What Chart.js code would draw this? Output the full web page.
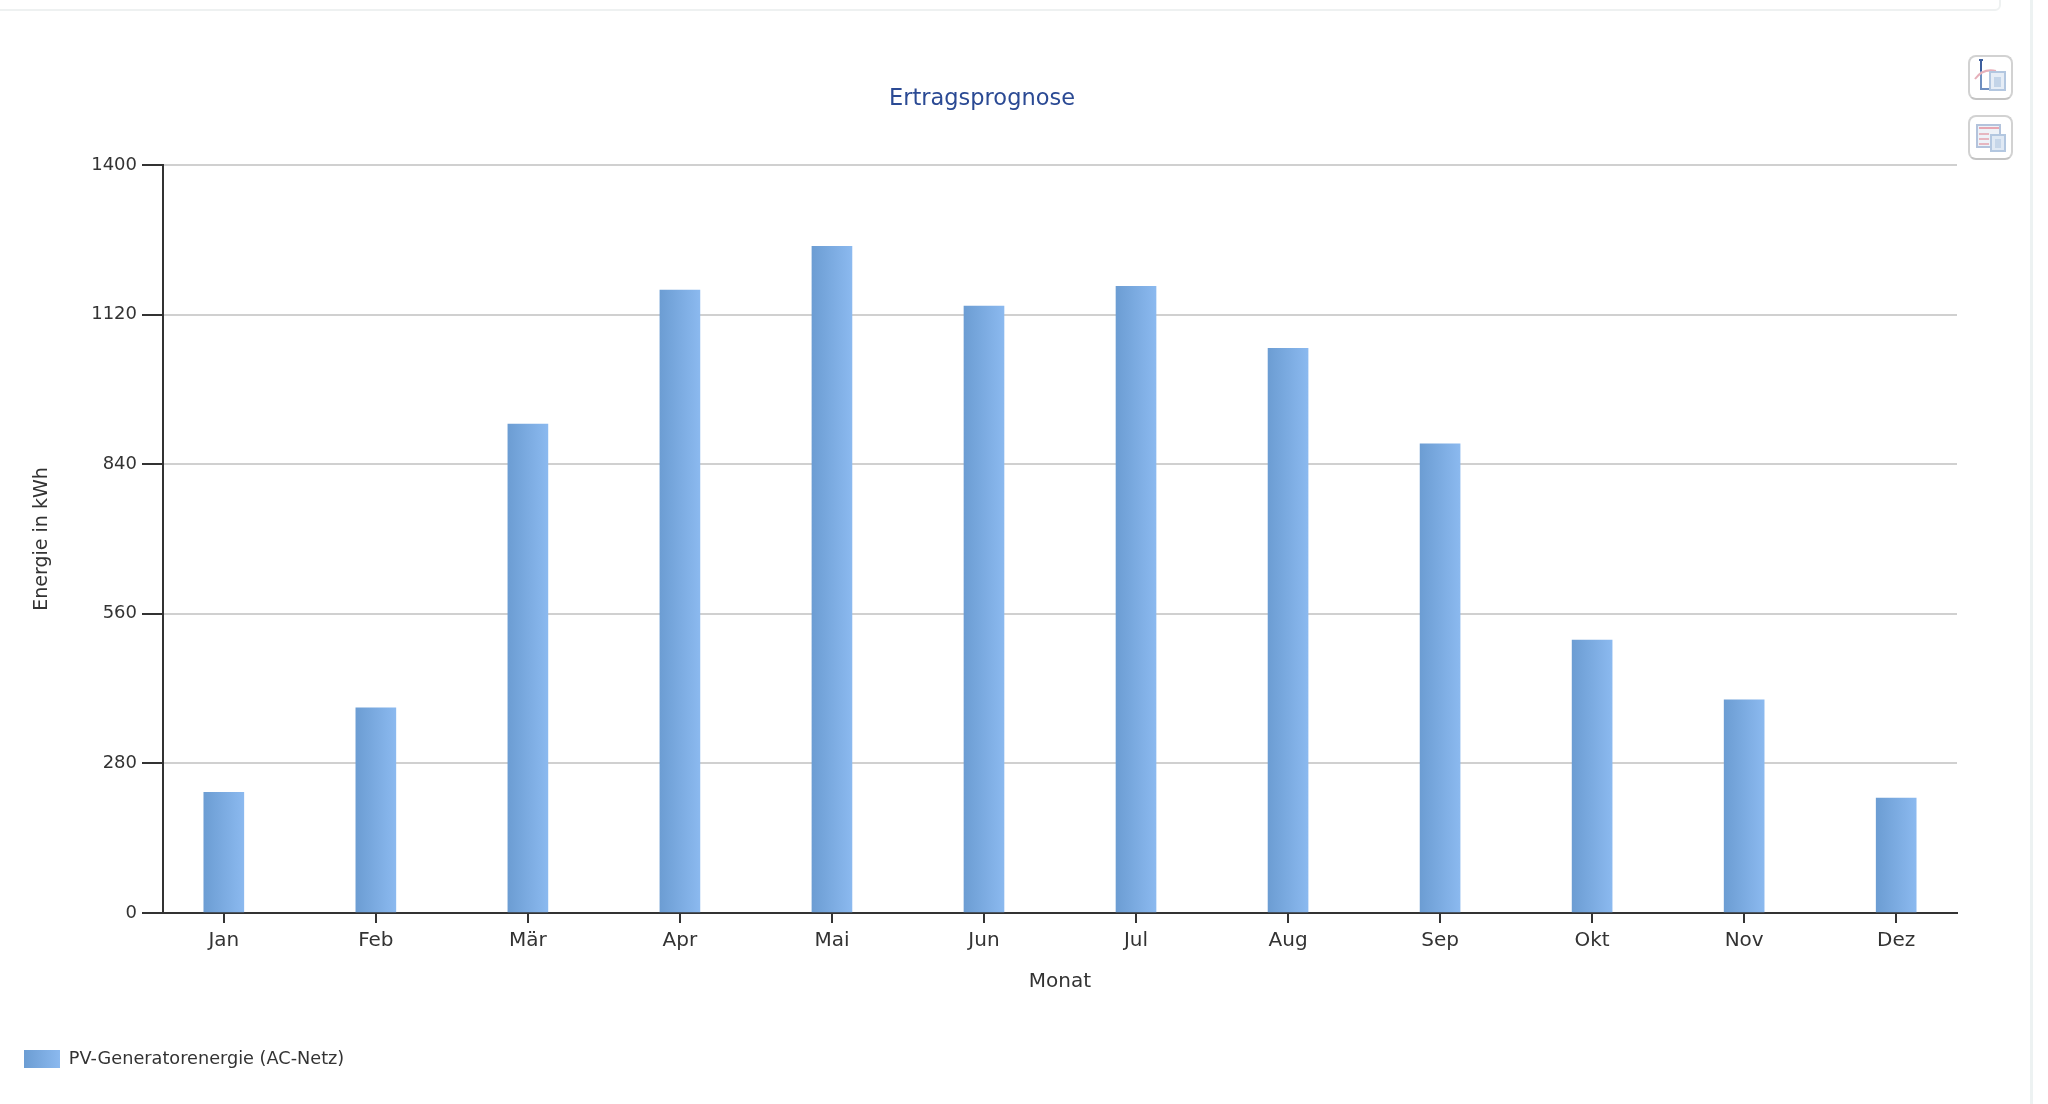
<!DOCTYPE html>
<html>
<head>
<meta charset="utf-8">
<title>Ertragsprognose</title>
<script src="https://cdn.jsdelivr.net/npm/chart.js@4/dist/chart.umd.min.js"></script>
<style>
  html, body { margin: 0; padding: 0; background: #fff; width: 2048px; height: 1104px; overflow: hidden; }
  #wrap { position: absolute; left: 0; top: 0; width: 1964px; height: 1104px; }
  .topbox { position: absolute; left: -10px; top: -10px; width: 2007px; height: 17px; border: 2px solid #eef1f1; border-radius: 6px; }
  .rightline { position: absolute; left: 2030px; top: 0; width: 3px; height: 1104px; background: #edf2f2; }
  .btn { position: absolute; left: 1968px; width: 41px; height: 41px; border: 2px solid #d2d2d2; border-bottom-color: #c4c4c4; border-radius: 8px; background: #fff; }
</style>
</head>
<body>
<div class="topbox"></div>
<div class="rightline"></div>
<div id="wrap"><canvas id="chart"></canvas></div>
<div class="btn" style="top:55px">
  <svg width="41" height="41" viewBox="0 0 41 41">
    <path d="M11 3V32H22" fill="none" stroke="#6f8fc0" stroke-width="2"/>
    <path d="M9 3H13" stroke="#3d5f9e" stroke-width="2"/>
    <path d="M11 3V14" stroke="#3d5f9e" stroke-width="2"/>
    <path d="M5 22C10 15 17 12 26 14" fill="none" stroke="#e6b0ba" stroke-width="2"/>
    <rect x="20" y="15" width="15" height="18" fill="#e6edf6" stroke="#b3c7e0" stroke-width="2"/>
    <rect x="24" y="20" width="7" height="10" fill="#c3d4e8"/>
  </svg>
</div>
<div class="btn" style="top:115px">
  <svg width="41" height="41" viewBox="0 0 41 41">
    <rect x="7" y="8" width="23" height="22" fill="#eef2f8" stroke="#b3c3dc" stroke-width="2"/>
    <path d="M9 11H29" stroke="#e6a6b2" stroke-width="2"/>
    <path d="M9 17H19M9 22H19M9 27H19" stroke="#e6b6c0" stroke-width="2"/>
    <rect x="21" y="18" width="14" height="16" fill="#e0e9f4" stroke="#b3c7e0" stroke-width="2"/>
    <rect x="25" y="22" width="6" height="9" fill="#c6d6e9"/>
  </svg>
</div>
<script>
const months = ["Jan", "Feb", "Mär", "Apr", "Mai", "Jun", "Jul", "Aug", "Sep", "Okt", "Nov", "Dez"];
const energy = [226, 384, 915, 1166, 1248, 1136, 1173, 1057, 878, 511, 399, 215];
const yTicks = [0, 280, 560, 840, 1120, 1400];
const seriesName = "PV-Generatorenergie (AC-Netz)";

const font = "'DejaVu Sans', sans-serif";
const ink = "#333333";

function barGradient(ctx, x0, x1) {
  const g = ctx.createLinearGradient(x0, 0, x1, 0);
  g.addColorStop(0, "#6c9dd3");
  g.addColorStop(1, "#8bb9ef");
  return g;
}

new Chart(document.getElementById("chart"), {
  type: "bar",
  data: {
    datasets: [{
      label: seriesName,
      data: energy.map((v, i) => ({ x: i, y: v })),
      barThickness: 40,
      backgroundColor(c) {
        const sx = c.chart.scales.x;
        if (!sx || c.dataIndex === undefined) return "#7aaae0";
        const px = sx.getPixelForValue(c.dataIndex);
        return barGradient(c.chart.ctx, px - 20, px + 20);
      }
    }]
  },
  options: {
    responsive: true,
    maintainAspectRatio: false,
    animation: false,
    devicePixelRatio: 1,
    layout: { padding: { left: 7, right: 7, top: 0, bottom: 26 } },
    plugins: {
      tooltip: { enabled: false },
      title: {
        display: true,
        text: "Ertragsprognose",
        color: "#2b4a94",
        font: { family: font, size: 22.5, weight: "normal" },
        padding: { top: 86, bottom: 52 }
      },
      legend: {
        position: "bottom",
        align: "start",
        labels: {
          color: ink,
          boxWidth: 36,
          boxHeight: 18,
          padding: 17,
          font: { family: font, size: 17.7 },
          generateLabels(chart) {
            return [{
              text: seriesName,
              fontColor: ink,
              lineWidth: 0,
              datasetIndex: 0,
              fillStyle: barGradient(chart.ctx, 24, 60)
            }];
          }
        }
      }
    },
    scales: {
      x: {
        type: "linear",
        offset: false,
        min: -0.4,
        max: 11.4,
        afterBuildTicks(scale) {
          scale.ticks = months.map((m, i) => ({ value: i }));
        },
        afterFit(scale) {
          scale.height = 120;
        },
        border: { color: ink, width: 2 },
        grid: { offset: false, drawOnChartArea: false, drawTicks: true, tickLength: 10, color: ink, lineWidth: 2 },
        ticks: {
          color: ink,
          autoSkip: false,
          maxRotation: 0,
          padding: 6,
          font: { family: font, size: 20 },
          callback: (v) => months[v]
        },
        title: {
          display: true,
          text: "Monat",
          color: ink,
          font: { family: font, size: 20 },
          padding: { top: 0, bottom: 39 }
        }
      },
      y: {
        min: 0,
        max: 1400,
        afterBuildTicks(scale) {
          scale.ticks = yTicks.map((v) => ({ value: v }));
        },
        afterFit(scale) {
          scale.width = 156;
        },
        border: { color: ink, width: 2 },
        grid: {
          color: "#d0d0d0",
          lineWidth: 2,
          tickLength: 21,
          tickColor: ink
        },
        ticks: {
          color: ink,
          padding: 5,
          font: { family: font, size: 18 },
          callback: (v) => String(v)
        },
        title: {
          display: true,
          text: "Energie in kWh",
          color: ink,
          font: { family: font, size: 19 },
          padding: { top: 24, bottom: 0 }
        }
      }
    }
  }
});
</script>
</body>
</html>
